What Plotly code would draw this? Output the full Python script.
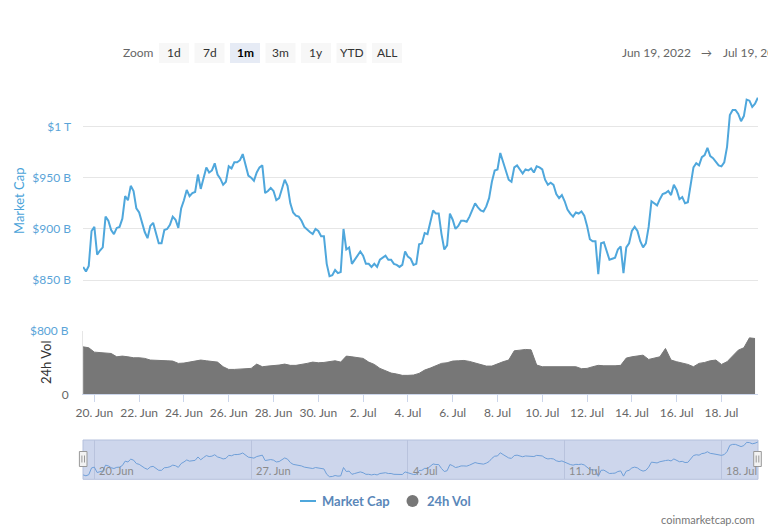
import pandas as pd
import plotly.graph_objects as go

W, H = 768, 528

# ---------------- data ----------------
# total market cap in $B, sampled every 3 hours from 2022-06-19 12:00
market_cap_b = [
    863, 858.5, 864, 898, 902, 875, 879, 882, 912, 908,
    899, 895, 901, 902, 910, 932, 928, 942, 937, 920,
    916, 906, 897, 891, 903, 906, 896, 886, 886, 899,
    900, 904, 912, 909, 901, 920, 928, 938, 932, 935,
    936, 953, 939, 950, 960, 955, 957, 964, 953, 949,
    943, 946, 961, 959, 965, 965, 967, 973, 961, 952,
    950, 947, 955, 960,
    962, 935, 937, 940, 937, 928, 930, 938, 948, 942,
    925, 916, 913, 912, 908, 902, 899, 897, 895, 900,
    898, 893, 893, 866, 854, 855, 860, 857, 858, 900,
    880, 882, 866, 870, 874, 878, 874, 866, 866, 863,
    866, 863, 870, 872, 874, 870, 870, 866, 865, 863,
    865, 878, 873, 871, 865, 866, 885, 886, 896, 895,
    906, 918, 915, 915, 895, 880, 884, 915, 909, 900,
    903, 908, 908, 907, 912, 918, 925, 921, 918, 917,
    922, 930, 946, 957, 958, 974, 965, 957, 948, 946,
    960, 962, 958, 954, 958, 957, 959, 955, 961, 960,
    958, 948, 943, 945, 943, 934, 930, 933, 927, 919,
    915, 912, 916, 915, 917, 913, 903, 890, 888, 888,
    856,
    886, 887, 878, 870, 871, 872, 880, 883, 857, 882,
    886, 898, 902, 898, 888, 882, 886, 902, 927, 925,
    923, 929, 934, 935, 937, 933, 943, 938, 929, 931,
    925, 926, 942, 960, 964, 962, 970, 972, 979, 971,
    969, 966, 962, 961, 965, 980, 1011, 1016, 1016, 1012,
    1005, 1010, 1026, 1025, 1019, 1022, 1028,
]
mcap_start, mcap_freq = "2022-06-19 12:00", "3h"

# 24h volume in $B, sampled every 6 hours from 2022-06-19 12:00
volume_b = [
    599, 587, 532, 524, 524, 515, 473, 482, 473, 461,
    461, 453, 432, 432, 423, 423, 419, 390, 394, 406,
    423, 432, 423, 419, 406, 348, 314, 314, 318, 327,
    327, 381, 348, 356, 360, 369, 381, 365, 365, 373,
    390, 406, 398, 402, 411, 423, 406, 482, 473, 465,
    453, 406, 377, 327, 297, 268, 256,
    239, 239, 243, 264, 306, 331, 365, 390, 398, 419,
    423, 427, 415, 398, 373, 356, 356, 385, 411, 432,
    549, 557, 566, 561, 369, 348, 348, 356, 356, 348,
    348, 348, 323, 327, 348, 365, 360, 356, 360, 365,
    457, 473, 486, 494, 440, 453, 473, 578, 432, 411,
    394, 377, 348, 390, 402, 423, 432, 377, 411, 490,
    557, 587, 712, 704,
]
vol_start, vol_freq = "2022-06-19 12:00", "6h"

main_tickvals = [850, 900, 950, 1000, 1050]
main_ticktext = ["$850 B", "$900 B", "$950 B", "$1 T", ""]
vol_tickvals = [0, 800]
vol_ticktext = ['<span style="color:#666666">0</span>', "$800 B"]
axis_ticks = pd.date_range("2022-06-20", "2022-07-18", freq="2D")
nav_ticks = pd.date_range("2022-06-20", "2022-07-18", freq="7D")
x_range = ["2022-06-19 11:50", "2022-07-19 15:10"]
range_buttons = ["1d", "7d", "1m", "3m", "1y", "YTD", "ALL"]
selected_button = "1m"
range_from, range_to = "Jun 19, 2022", "Jul 19, 2022"
legend_names = ["Market Cap", "24h Vol"]

mcap_times = pd.date_range(mcap_start, periods=len(market_cap_b), freq=mcap_freq)
vol_times = pd.date_range(vol_start, periods=len(volume_b), freq=vol_freq)

# ---------------- styling helpers ----------------
FONT = "Lato, 'Open Sans', sans-serif"
LINE_BLUE = "#4fa7dc"
LABEL_BLUE = "#5aa4d8"
VOL_GRAY = "#777777"
GRID = "#e6e6e6"
AXIS = "#ccd6eb"


def px(x):
    return x / W


def py(y):
    return 1 - y / H


def note(x, y, text, size=12, color="#666666", xanchor="center", **kw):
    return dict(x=px(x), y=py(y), xref="paper", yref="paper", text=text, showarrow=False,
                xanchor=xanchor, yanchor="middle", font=dict(family=FONT, size=size, color=color), **kw)


fig = go.Figure()
fig.add_trace(go.Scatter(x=mcap_times, y=market_cap_b, xaxis="x", yaxis="y",
                         mode="lines", line=dict(color=LINE_BLUE, width=2),
                         name=legend_names[0], showlegend=False))
fig.add_trace(go.Scatter(x=vol_times, y=volume_b, xaxis="x2", yaxis="y2",
                         mode="lines", fill="tozeroy", fillcolor=VOL_GRAY,
                         line=dict(color=VOL_GRAY, width=1),
                         name=legend_names[1], showlegend=False))
fig.add_trace(go.Scatter(x=mcap_times, y=market_cap_b, xaxis="x3", yaxis="y3",
                         mode="lines", line=dict(color="#6f9fd8", width=1),
                         showlegend=False, hoverinfo="skip"))

xdom = [px(83), px(758)]
shapes = []
annotations = []

# navigator background
shapes.append(dict(type="rect", xref="x3 domain", yref="y3 domain", x0=0, x1=1, y0=0, y1=1,
                   fillcolor="#cdd6ec", line=dict(color="#b4c0dc", width=1), layer="below"))
# navigator handles
for hx in (83.2, 757.5):
    shapes.append(dict(type="rect", xref="paper", yref="paper",
                       x0=px(hx - 3.8), x1=px(hx + 3.8), y0=py(466.5), y1=py(451.5),
                       fillcolor="#f2f2f2", line=dict(color="#999999", width=1)))
    for dx in (-1.3, 1.3):
        shapes.append(dict(type="line", xref="paper", yref="paper",
                           x0=px(hx + dx), x1=px(hx + dx), y0=py(462.5), y1=py(455.5),
                           line=dict(color="#999999", width=1)))
# navigator date labels
for t in nav_ticks:
    annotations.append(dict(x=t + pd.Timedelta(hours=3), y=0.02, xref="x3", yref="y3 domain",
                            text=f"{t.day}. {t.strftime('%b')}", showarrow=False,
                            xanchor="left", yanchor="bottom",
                            font=dict(family=FONT, size=11, color="#8a8a8a")))

# range selector buttons
annotations.append(note(138, 53, "Zoom", 12, "#666666"))
for i, b in enumerate(range_buttons):
    x0 = 159 + 35.5 * i
    sel = b == selected_button
    shapes.append(dict(type="rect", xref="paper", yref="paper",
                       x0=px(x0), x1=px(x0 + 30), y0=py(63), y1=py(43),
                       fillcolor="#e6ebf5" if sel else "#f7f7f7", line=dict(width=0)))
    annotations.append(note(x0 + 15, 53, f"<b>{b}</b>" if sel else b, 12,
                            "#000000" if sel else "#333333"))
annotations.append(note(620, 53, range_from, 12, "#666666", xanchor="left"))
annotations.append(note(706, 53, "→", 11, "#666666"))
annotations.append(note(721, 53, range_to, 12, "#666666", xanchor="left"))

# axis titles
annotations.append(note(19, 201, "Market Cap", 13, "#4ba3d9", textangle=-90))
annotations.append(note(46, 363, "24h Vol", 13, "#333333", textangle=-90))

# legend
shapes.append(dict(type="line", xref="paper", yref="paper", x0=px(300), x1=px(316),
                   y0=py(501), y1=py(501), line=dict(color=LINE_BLUE, width=2)))
annotations.append(note(320, 501, f"<b>{legend_names[0]}</b>", 13, "#5a87b9", xanchor="left"))
shapes.append(dict(type="circle", xref="paper", yref="paper", x0=px(406.5), x1=px(418.5),
                   y0=py(507), y1=py(495), fillcolor=VOL_GRAY, line=dict(width=0)))
annotations.append(note(425, 501, f"<b>{legend_names[1]}</b>", 13, "#5a87b9", xanchor="left"))

# watermark
annotations.append(note(757, 519, "coinmarketcap.com", 11, "#777777", xanchor="right"))

fig.update_layout(
    template="none",
    width=W, height=H, autosize=False,
    margin=dict(l=0, r=0, t=0, b=0, pad=0, autoexpand=False),
    paper_bgcolor="white", plot_bgcolor="rgba(0,0,0,0)",
    font=dict(family=FONT, size=12, color="#666666"),
    showlegend=False,
    xaxis=dict(domain=xdom, range=x_range, anchor="y", showticklabels=False, automargin=False,
               showgrid=False, zeroline=False, showline=False, type="date", ticks=""),
    yaxis=dict(domain=[py(285.4), py(74.5)], range=[845, 1050.5], anchor="x", automargin=False,
               tickvals=main_tickvals, ticktext=main_ticktext, showgrid=True,
               gridcolor=GRID, gridwidth=1, zeroline=False, ticks="", ticklabelstandoff=11,
               showline=False, tickfont=dict(family=FONT, size=12, color=LABEL_BLUE)),
    xaxis2=dict(domain=xdom, range=x_range, anchor="y2", type="date", automargin=False,
                tickvals=list(axis_ticks),
                ticktext=[f"{t.day}. {t.strftime('%b')}" for t in axis_ticks],
                ticks="outside", ticklen=7, tickcolor=AXIS, tickwidth=1,
                showline=True, linecolor=AXIS, linewidth=1,
                showgrid=False, zeroline=False,
                tickfont=dict(family=FONT, size=12, color="#666666")),
    yaxis2=dict(domain=[py(394.3), py(330.5)], range=[0, 805], anchor="x2", automargin=False,
                tickvals=vol_tickvals, ticktext=vol_ticktext, showgrid=True, gridcolor=GRID,
                zeroline=False, ticks="", ticklabelstandoff=11, showline=True,
                linecolor="#e6e6e6", linewidth=1,
                tickfont=dict(family=FONT, size=12, color=LABEL_BLUE)),
    xaxis3=dict(domain=xdom, range=x_range, anchor="y3", type="date", automargin=False,
                tickvals=list(nav_ticks), showticklabels=False, showgrid=True,
                gridcolor="#b9c3dd", zeroline=False, ticks="", showline=False),
    yaxis3=dict(domain=[py(479.3), py(440)], range=[841, 1038], anchor="x3", automargin=False,
                showticklabels=False, showgrid=False, zeroline=False, ticks="", showline=False),
    shapes=shapes, annotations=annotations,
)

fig.write_html("out.html", config={"displayModeBar": False},
               post_script="document.body.style.margin='0px';")
